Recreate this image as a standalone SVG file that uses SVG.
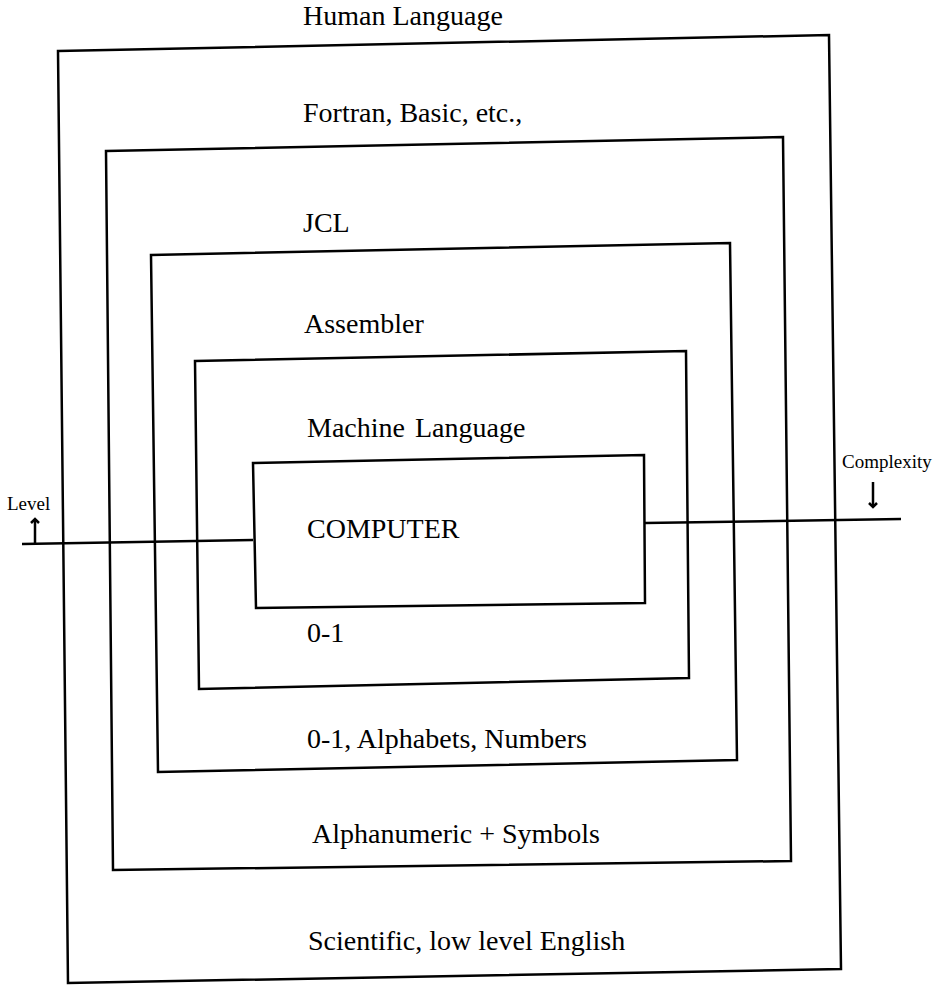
<svg xmlns="http://www.w3.org/2000/svg" width="950" height="985" viewBox="0 0 950 985">
<style>
.box{fill:none;stroke:#000;stroke-width:2.5;stroke-linejoin:miter}
.ln{stroke:#000;stroke-width:2.5;fill:none}
.t{font-family:"Liberation Serif","Times New Roman",serif;font-size:28px;fill:#000}
.s{font-family:"Liberation Serif","Times New Roman",serif;font-size:19px;fill:#000}
</style>
<defs>
<marker id="ah" markerWidth="10" markerHeight="10" refX="5" refY="5" orient="auto" markerUnits="userSpaceOnUse">
<path d="M1,1 L5,5 L1,9" fill="none" stroke="#000" stroke-width="2.5"/>
</marker>
</defs>
<rect width="950" height="985" fill="#fff"/>
<g id="human">
<polygon class="box" points="58,51 829,35 841,969 68,983"/>
<text class="t" x="303" y="25">Human Language</text>
<text class="t" x="308" y="950">Scientific, low level English</text>
</g>
<g id="fortran">
<polygon class="box" points="106,151 783,137 791,861 113,870"/>
<text class="t" x="303" y="122">Fortran, Basic, etc.,</text>
<text class="t" x="312" y="843">Alphanumeric + Symbols</text>
</g>
<g id="jcl">
<polygon class="box" points="151,255 730,243 737,760 158,772"/>
<text class="t" x="303" y="232">JCL</text>
<text class="t" x="307" y="748">0-1, Alphabets, Numbers</text>
</g>
<g id="assembler">
<polygon class="box" points="195,361 686,351 689,678 199,689"/>
<text class="t" x="304" y="333">Assembler</text>
<text class="t" x="307" y="642">0-1</text>
</g>
<g id="machine">
<polygon class="box" points="253,463 644,455 645,603 256,608"/>
<text class="t" x="307" y="437" word-spacing="3">Machine Language</text>
<text class="t" x="307" y="538">COMPUTER</text>
</g>
<g id="connectors">
<line class="ln" x1="22" y1="544" x2="253" y2="540"/>
<line class="ln" x1="645" y1="523" x2="901" y2="519"/>
<line class="ln" x1="35" y1="544" x2="35" y2="519" marker-end="url(#ah)"/>
<line class="ln" x1="873" y1="482" x2="873" y2="507" marker-end="url(#ah)"/>
</g>
<g id="labels">
<text class="s" x="7" y="510">Level</text>
<text class="s" x="842" y="468">Complexity</text>
</g>
</svg>
